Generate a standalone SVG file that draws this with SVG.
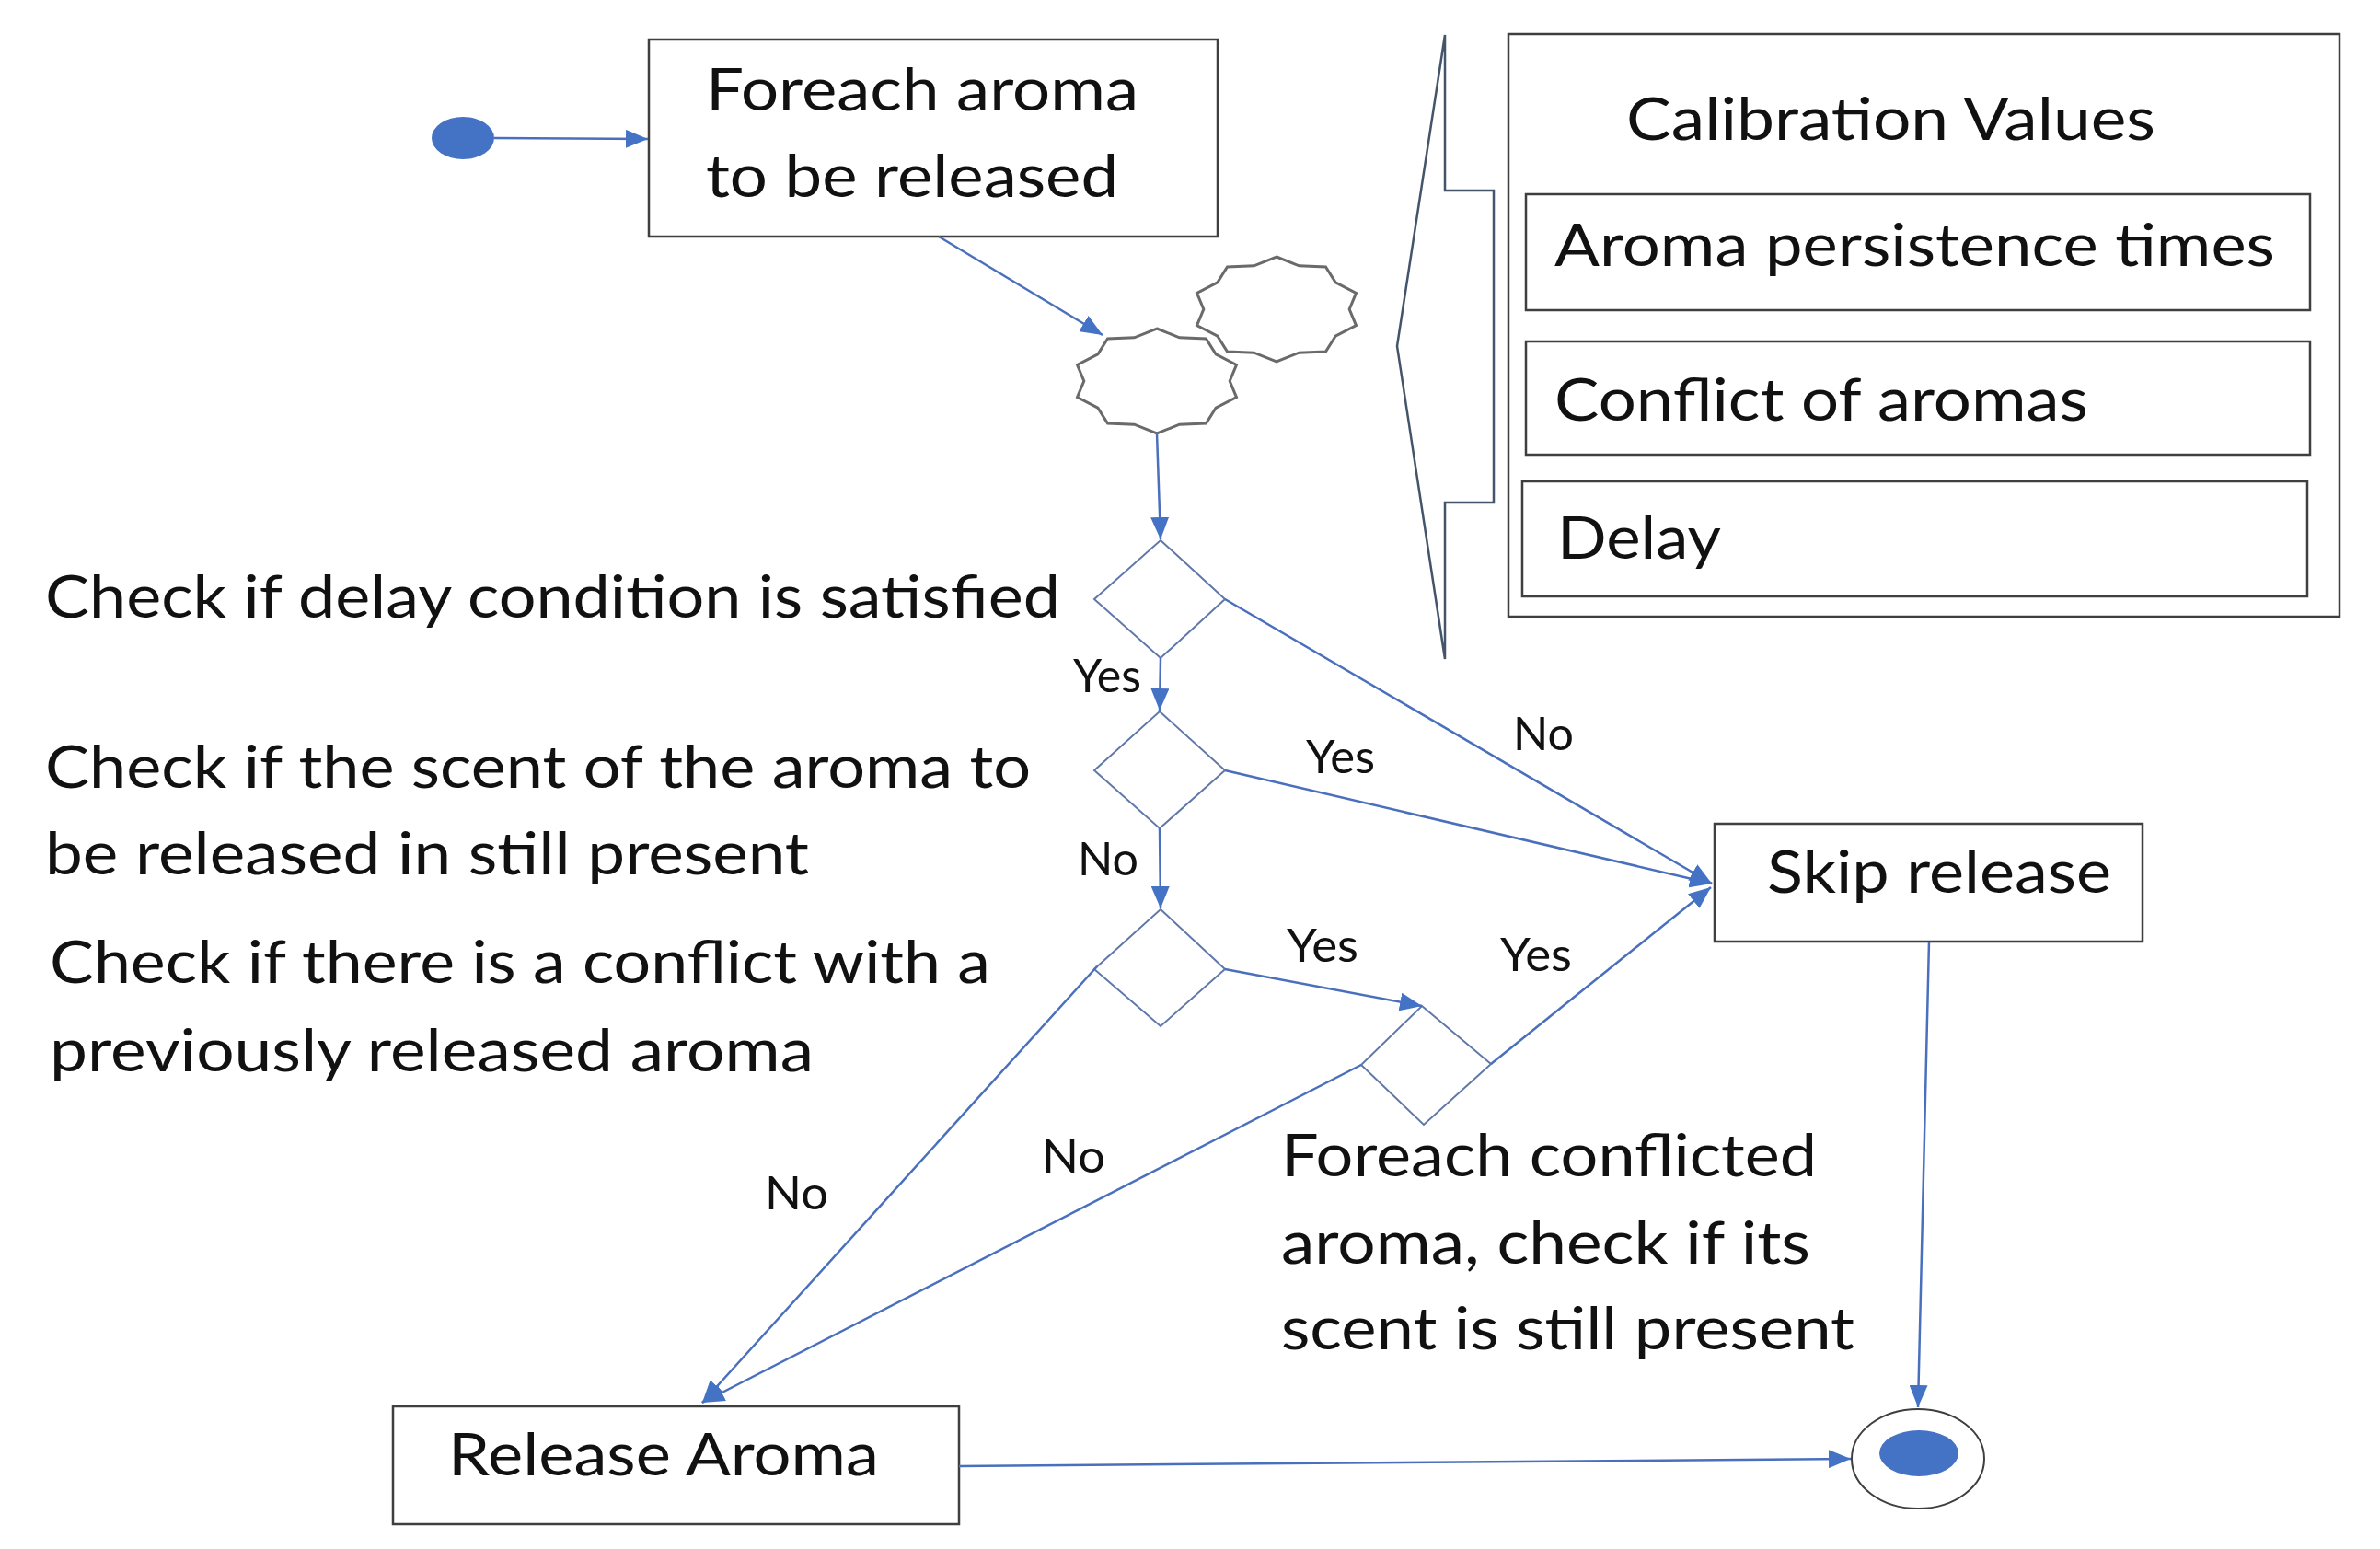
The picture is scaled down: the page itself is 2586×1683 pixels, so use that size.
<svg xmlns="http://www.w3.org/2000/svg" xmlns:xlink="http://www.w3.org/1999/xlink" width="2586" height="1683" viewBox="0 0 2586 1683">
<style>
.t{font-family:Lato,"Liberation Sans","DejaVu Sans",sans-serif;font-size:63px;fill:#111;}
.l{font-family:Lato,"Liberation Sans","DejaVu Sans",sans-serif;font-size:50px;fill:#111;}
.box{fill:#fff;stroke:#3f3f3f;stroke-width:2.5;}
.dia{fill:#fff;stroke:#6078a8;stroke-width:2;}
.star{fill:#fff;stroke:#6a6a6a;stroke-width:3;}
.con{fill:none;stroke:#4a70bd;stroke-width:2.5;}
.dot{fill:#4472c4;}
</style>
<defs>
<marker id="arr" markerWidth="24" markerHeight="20" refX="24" refY="10" orient="auto" markerUnits="userSpaceOnUse"><path d="M0,0 L24,10 L0,20 Z" fill="#4472c4"/></marker>
<path id="starShape" d="M0,-57 L24.5,-47.2 L53.5,-46.1 L64.1,-29.2 L86.5,-17.6 L79.2,0 L86.5,17.6 L64.1,29.2 L53.5,46.1 L24.5,47.2 L0,57 L-24.5,47.2 L-53.5,46.1 L-64.1,29.2 L-86.5,17.6 L-79.2,0 L-86.5,-17.6 L-64.1,-29.2 L-53.5,-46.1 L-24.5,-47.2 Z"/>
</defs>
<rect width="2586" height="1683" fill="#fff"/>

<g id="start"><ellipse class="dot" cx="503" cy="150" rx="34" ry="23"/></g>

<g id="foreach-aroma">
<rect class="box" x="705" y="43" width="618" height="214"/>
<text class="t" x="767" y="120" textLength="470" lengthAdjust="spacingAndGlyphs">Foreach aroma</text>
<text class="t" x="767" y="214" textLength="448" lengthAdjust="spacingAndGlyphs">to be released</text>
</g>

<g id="fork-star-2"><use xlink:href="#starShape" href="#starShape" class="star" transform="translate(1387,336)"/></g>
<g id="fork-star-1"><use xlink:href="#starShape" href="#starShape" class="star" transform="translate(1257,414)"/></g>

<g id="callout"><path d="M1570,38 L1570,207 L1623,207 L1623,546 L1570,546 L1570,716 L1518,376 Z" fill="none" stroke="#44546a" stroke-width="2.5"/></g>

<g id="calibration-values">
<rect class="box" x="1639" y="37" width="903" height="633"/>
<text class="t" x="1767" y="152" textLength="575" lengthAdjust="spacingAndGlyphs">Calibration Values</text>
</g>
<g id="cal-persistence">
<rect class="box" x="1658" y="211" width="852" height="126"/>
<text class="t" x="1689" y="289" textLength="783" lengthAdjust="spacingAndGlyphs">Aroma persistence times</text>
</g>
<g id="cal-conflict">
<rect class="box" x="1658" y="371" width="852" height="123"/>
<text class="t" x="1689" y="457" textLength="580" lengthAdjust="spacingAndGlyphs">Conflict of aromas</text>
</g>
<g id="cal-delay">
<rect class="box" x="1654" y="523" width="853" height="125"/>
<text class="t" x="1692" y="607" textLength="178" lengthAdjust="spacingAndGlyphs">Delay</text>
</g>

<g id="check-delay">
<polygon class="dia" points="1261,587 1331,651 1261,715 1189,651"/>
<text class="t" x="49" y="671" textLength="1103" lengthAdjust="spacingAndGlyphs">Check if delay condition is satisfied</text>
</g>
<g id="check-scent">
<polygon class="dia" points="1260,773 1331,837 1260,900 1189,837"/>
<text class="t" x="49" y="856" textLength="1071" lengthAdjust="spacingAndGlyphs">Check if the scent of the aroma to</text>
<text class="t" x="49" y="950" textLength="830" lengthAdjust="spacingAndGlyphs">be released in still present</text>
</g>
<g id="check-conflict">
<polygon class="dia" points="1261,988 1331,1053 1261,1115 1189,1053"/>
<text class="t" x="54" y="1068" textLength="1022" lengthAdjust="spacingAndGlyphs">Check if there is a conflict with a</text>
<text class="t" x="54" y="1164" textLength="830" lengthAdjust="spacingAndGlyphs">previously released aroma</text>
</g>
<g id="check-conflicted-scent">
<polygon class="dia" points="1545,1093 1620,1156 1547,1222 1479,1157"/>
<text class="t" x="1392" y="1278" textLength="582" lengthAdjust="spacingAndGlyphs">Foreach conflicted</text>
<text class="t" x="1392" y="1373" textLength="575" lengthAdjust="spacingAndGlyphs">aroma, check if its</text>
<text class="t" x="1392" y="1466" textLength="623" lengthAdjust="spacingAndGlyphs">scent is still present</text>
</g>

<g id="skip-release">
<rect class="box" x="1863" y="895" width="465" height="128"/>
<text class="t" x="1920" y="970" textLength="374" lengthAdjust="spacingAndGlyphs">Skip release</text>
</g>

<g id="release-aroma">
<rect class="box" x="427" y="1528" width="615" height="128"/>
<text class="t" x="487" y="1603" textLength="468" lengthAdjust="spacingAndGlyphs">Release Aroma</text>
</g>

<g id="end">
<ellipse cx="2084" cy="1585" rx="72" ry="54" fill="#fff" stroke="#3f3f3f" stroke-width="2"/>
<ellipse class="dot" cx="2085" cy="1579" rx="43" ry="25"/>
</g>

<g id="connectors">
<line class="con" x1="537" y1="150" x2="704" y2="151" marker-end="url(#arr)"/>
<line class="con" x1="1020" y1="257" x2="1198" y2="364" marker-end="url(#arr)"/>
<line class="con" x1="1257" y1="471" x2="1261" y2="586" marker-end="url(#arr)"/>
<line class="con" x1="1261" y1="715" x2="1260" y2="772" marker-end="url(#arr)"/>
<line class="con" x1="1260" y1="900" x2="1261" y2="987" marker-end="url(#arr)"/>
<line class="con" x1="1331" y1="651" x2="1860" y2="960" marker-end="url(#arr)"/>
<line class="con" x1="1331" y1="837" x2="1860" y2="960" marker-end="url(#arr)"/>
<line class="con" x1="1620" y1="1156" x2="1859" y2="964" marker-end="url(#arr)"/>
<line class="con" x1="1331" y1="1053" x2="1545" y2="1093" marker-end="url(#arr)"/>
<line class="con" x1="1192" y1="1050" x2="763" y2="1524" marker-end="url(#arr)"/>
<line class="con" x1="1479" y1="1157" x2="763" y2="1524" marker-end="url(#arr)"/>
<line class="con" x1="2096" y1="1023" x2="2084" y2="1529" marker-end="url(#arr)"/>
<line class="con" x1="1042" y1="1593" x2="2011" y2="1585" marker-end="url(#arr)"/>
<text class="l" x="1166" y="752" textLength="74" lengthAdjust="spacingAndGlyphs">Yes</text>
<text class="l" x="1171" y="951" textLength="66" lengthAdjust="spacingAndGlyphs">No</text>
<text class="l" x="1419" y="840" textLength="75" lengthAdjust="spacingAndGlyphs">Yes</text>
<text class="l" x="1644" y="815" textLength="66" lengthAdjust="spacingAndGlyphs">No</text>
<text class="l" x="1398" y="1045" textLength="78" lengthAdjust="spacingAndGlyphs">Yes</text>
<text class="l" x="1630" y="1055" textLength="78" lengthAdjust="spacingAndGlyphs">Yes</text>
<text class="l" x="831" y="1314" textLength="69" lengthAdjust="spacingAndGlyphs">No</text>
<text class="l" x="1132" y="1274" textLength="69" lengthAdjust="spacingAndGlyphs">No</text>
</g>
</svg>
